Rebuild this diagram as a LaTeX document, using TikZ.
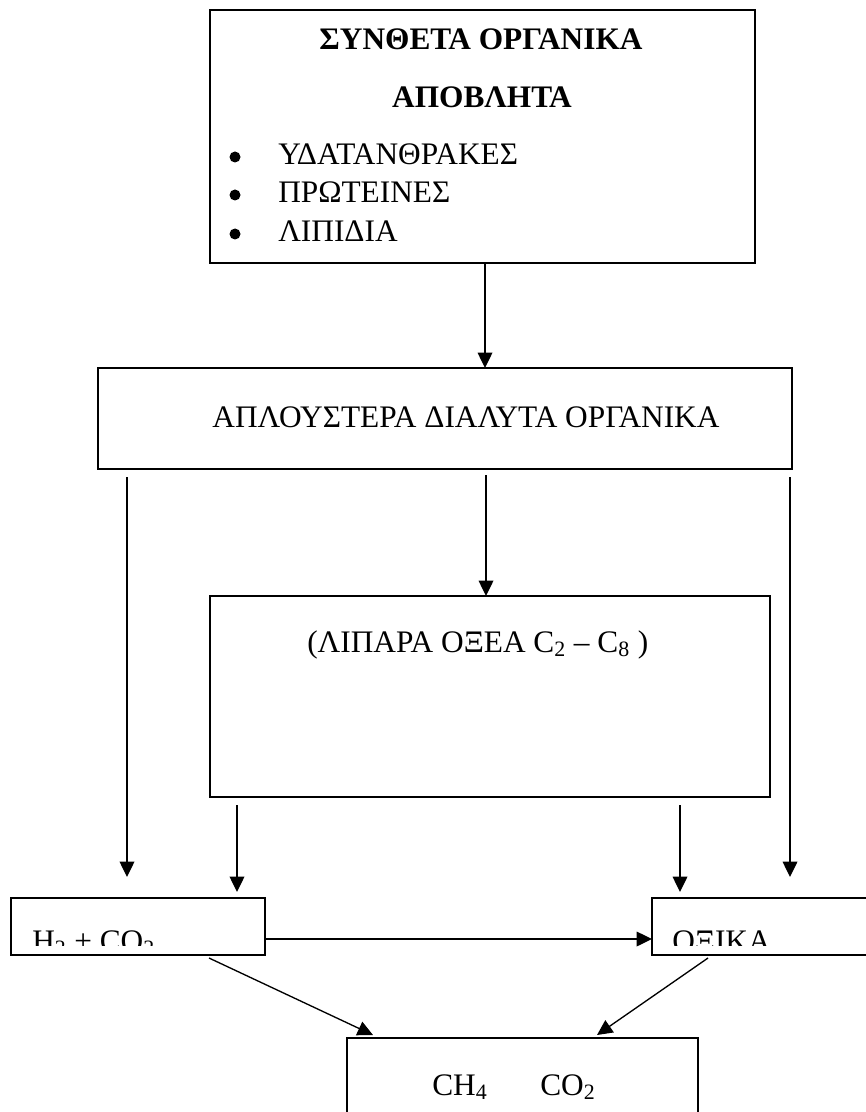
\documentclass[tikz,border=0pt]{standalone}
\usepackage{fontspec}
\setmainfont{Liberation Serif}
\usetikzlibrary{arrows.meta, calc, fit}

\begin{document}
\begin{tikzpicture}[x=0.75pt, y=-0.75pt, >={Triangle[length=11.5pt, width=11pt]},
    box/.style={draw, line width=1.4pt, inner sep=0pt, outer sep=0pt},
    txt/.style={inner sep=0pt, font=\fontsize{23.5}{28}\selectfont},
    arr/.style={->, line width=1pt}]
  \useasboundingbox (0,0) rectangle (865,1112);
  % boxes
  \node[box, fit={(210,10) (755,263)}] (waste) {};
  \node[box, fit={(98,368) (792,469)}] (simple) {};
  \node[box, fit={(210,596) (770,797)}] (fatty) {};
  \node[box, fit={(11,898) (265,955)}] (hydro) {};
  \node[box, fit={(652,898) (900,955)}] (acetic) {};
  \node[box, fit={(347,1038) (698,1160)}] (methane) {};

  % texts
  \node[txt, anchor=base, font=\fontsize{23.5}{28}\selectfont\bfseries] (title) at (481,50) {ΣΥΝΘΕΤΑ ΟΡΓΑΝΙΚΑ};
  \node[txt, anchor=base, font=\fontsize{23.5}{28}\selectfont\bfseries] (titleb) at (482,108) {ΑΠΟΒΛΗΤΑ};
  \foreach \y/\name/\word in {165/carbo/ΥΔΑΤΑΝΘΡΑΚΕΣ, 203/prot/ΠΡΩΤΕΙΝΕΣ, 242/lip/ΛΙΠΙΔΙΑ} {
    \fill (235,\y-8) circle (5.5);
    \node[txt, anchor=base west] (\name) at (278,\y) {\word};
  }
  \node[txt, anchor=base] (simpletxt) at (466,427) {ΑΠΛΟΥΣΤΕΡΑ ΔΙΑΛΥΤΑ ΟΡΓΑΝΙΚΑ};
  \node[txt, anchor=base west] (fattytxt) at (307,652) {(ΛΙΠΑΡΑ ΟΞΕΑ C\textsubscript{2} – C\textsubscript{8} )};
  \begin{scope}
    \clip (0,898) rectangle (865,945);
    \node[txt, anchor=base west] (hydrotxt) at (32,951) {H\textsubscript{2} + CO\textsubscript{2}};
    \node[txt, anchor=base west] (acetictxt) at (672,951) {ΟΞΙΚΑ};
  \end{scope}
  \node[txt, anchor=base west] (ch4) at (432,1095) {CH\textsubscript{4}};
  \node[txt, anchor=base west] (co2) at (540,1095) {CO\textsubscript{2}};

  % arrows
  \draw[arr] ($(waste.south west)+(275,0)$) -- ($(simple.north west)+(387,0)$);
  \draw[arr] ($(simple.south west)+(388,6)$) -- ($(fatty.north west)+(276,0)$);
  \draw[arr] ($(simple.south west)+(29,8)$) -- ($(hydro.north west)+(116,-21)$);
  \draw[arr] ($(fatty.south west)+(27,8)$) -- ($(hydro.north west)+(226,-6)$);
  \draw[arr] ($(fatty.south west)+(470,8)$) -- ($(acetic.north west)+(28,-6)$);
  \draw[arr] ($(simple.south west)+(692,8)$) -- ($(acetic.north west)+(138,-21)$);
  \draw[arr] ($(hydro.north east)+(0,41)$) -- ($(acetic.north west)+(0,41)$);
  \draw[arr] ($(hydro.south west)+(198,3)$) -- ($(methane.north west)+(26,-3)$);
  \draw[arr] ($(acetic.south west)+(56,3)$) -- ($(methane.north west)+(250,-3)$);
\end{tikzpicture}
\end{document}
